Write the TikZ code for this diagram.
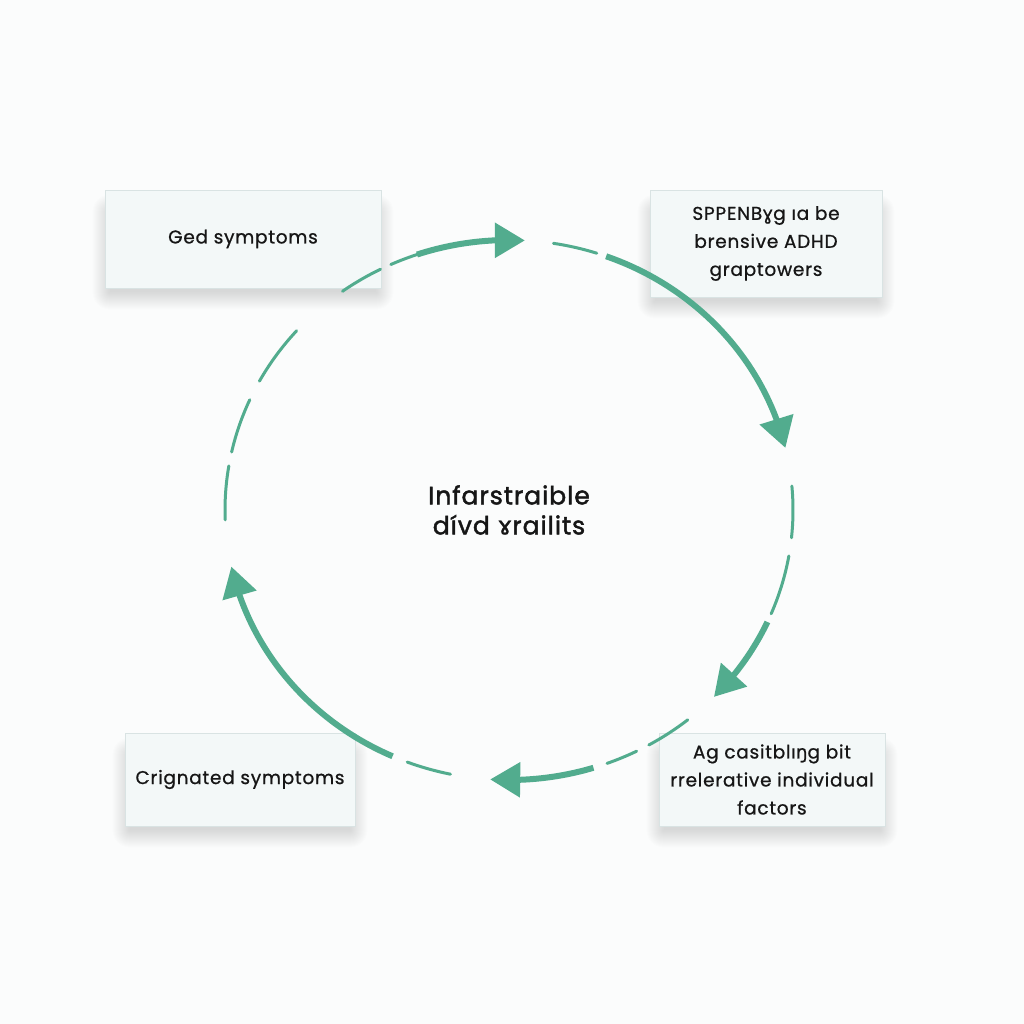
\documentclass[tikz,border=0pt]{standalone}
\usepackage{fontspec}
\setmainfont{Poppins}[LetterSpace=4,FakeBold=0.8]
\newfontfamily\dejavu{DejaVu Sans}[FakeBold=0.8]
\newfontfamily\ctrfont{Poppins}[LetterSpace=4,FakeBold=1.8]
\usetikzlibrary{arrows.meta,bending,calc,backgrounds}
\definecolor{teal}{HTML}{52AC8E}
\definecolor{boxfill}{HTML}{F3F8F8}
\definecolor{boxline}{HTML}{D9E3E3}
\definecolor{ink}{HTML}{161616}
\definecolor{pagebg}{HTML}{FBFCFC}
\tikzset{
  infobox/.style={draw=boxline,line width=0.8pt,fill=boxfill,inner sep=0pt,align=center,text=ink,font=\fontsize{18.5}{28}\selectfont},
  dashseg/.style={draw=teal,line width=3pt,line cap=round},
  solidseg/.style={draw=teal,line width=6pt,-{Triangle[length=30pt,width=34pt,flex=1]}},
}
\newcommand\ringarc[3]{\draw[#1] ($(c)+(#2:284 and 270)$) arc[start angle=#2,end angle=#3,x radius=284,y radius=270];}
\newcommand\softshadow[1]{%
  \foreach \i in {0,...,17}{
    \fill[black,opacity=0.006,rounded corners=\i pt] ($(#1.north west)+(-\i+5,-22+\i)$) rectangle ($(#1.south east)+(\i-5,-4-\i)$);
  }}
\begin{document}
\begin{tikzpicture}[x=1pt,y=1pt]
\useasboundingbox (0,0) rectangle (1024,-1024);
\coordinate (c) at (509,-510);
% boxes
\node[infobox,minimum width=276pt,minimum height=98pt] (b1) at (243,-239) {Ged symptoms};
\node[infobox,minimum width=232pt,minimum height=107pt] (b2) at (766,-243.5) {SPPENB{\dejavu ɣ}g ıa be\\brensive ADHD\\graptowers};
\node[infobox,minimum width=230pt,minimum height=93pt] (b3) at (240,-779.5) {Crignated symptoms};
\node[infobox,minimum width=226pt,minimum height=93pt] (b4) at (772,-779.5) {Ag casitblı{\dejavu ŋ}g bit\\rrelerative individual\\factors};
\node[text=ink,align=center,font=\ctrfont\fontsize{25}{30}\selectfont] (ctr) at (c) {Infarstraible\\dívd {\dejavu ɤ}railits};
\begin{pgfonlayer}{background}
  \fill[pagebg] (0,0) rectangle (1024,-1024);
  \softshadow{b1}\softshadow{b2}\softshadow{b3}\softshadow{b4}
\end{pgfonlayer}
% arrow 1 (top left)
\ringarc{dashseg}{125.9}{116.9}
\ringarc{dashseg}{114.6}{108.9}
\ringarc{solidseg}{108.9}{86.8}
% arrow 2 (top right)
\ringarc{dashseg}{81}{72}
\ringarc{solidseg}{70}{13.3}
% arrow 3 (right)
\ringarc{dashseg}{5.1}{-5.9}
\ringarc{dashseg}{-9.8}{-22.6}
\ringarc{solidseg}{-24.5}{-43.8}
% arrow 4 (bottom right)
\ringarc{dashseg}{-51}{-60.5}
\ringarc{dashseg}{-63.3}{-69.8}
\ringarc{solidseg}{-72.7}{-93.8}
% arrow 5 (bottom left)
\ringarc{dashseg}{-101.9}{-111}
\ringarc{solidseg}{-114.2}{-167.9}
% left dashed arc
\ringarc{dashseg}{138.4}{151.5}
\ringarc{dashseg}{155.9}{167.6}
\ringarc{dashseg}{170.6}{182.1}
\end{tikzpicture}
\end{document}
